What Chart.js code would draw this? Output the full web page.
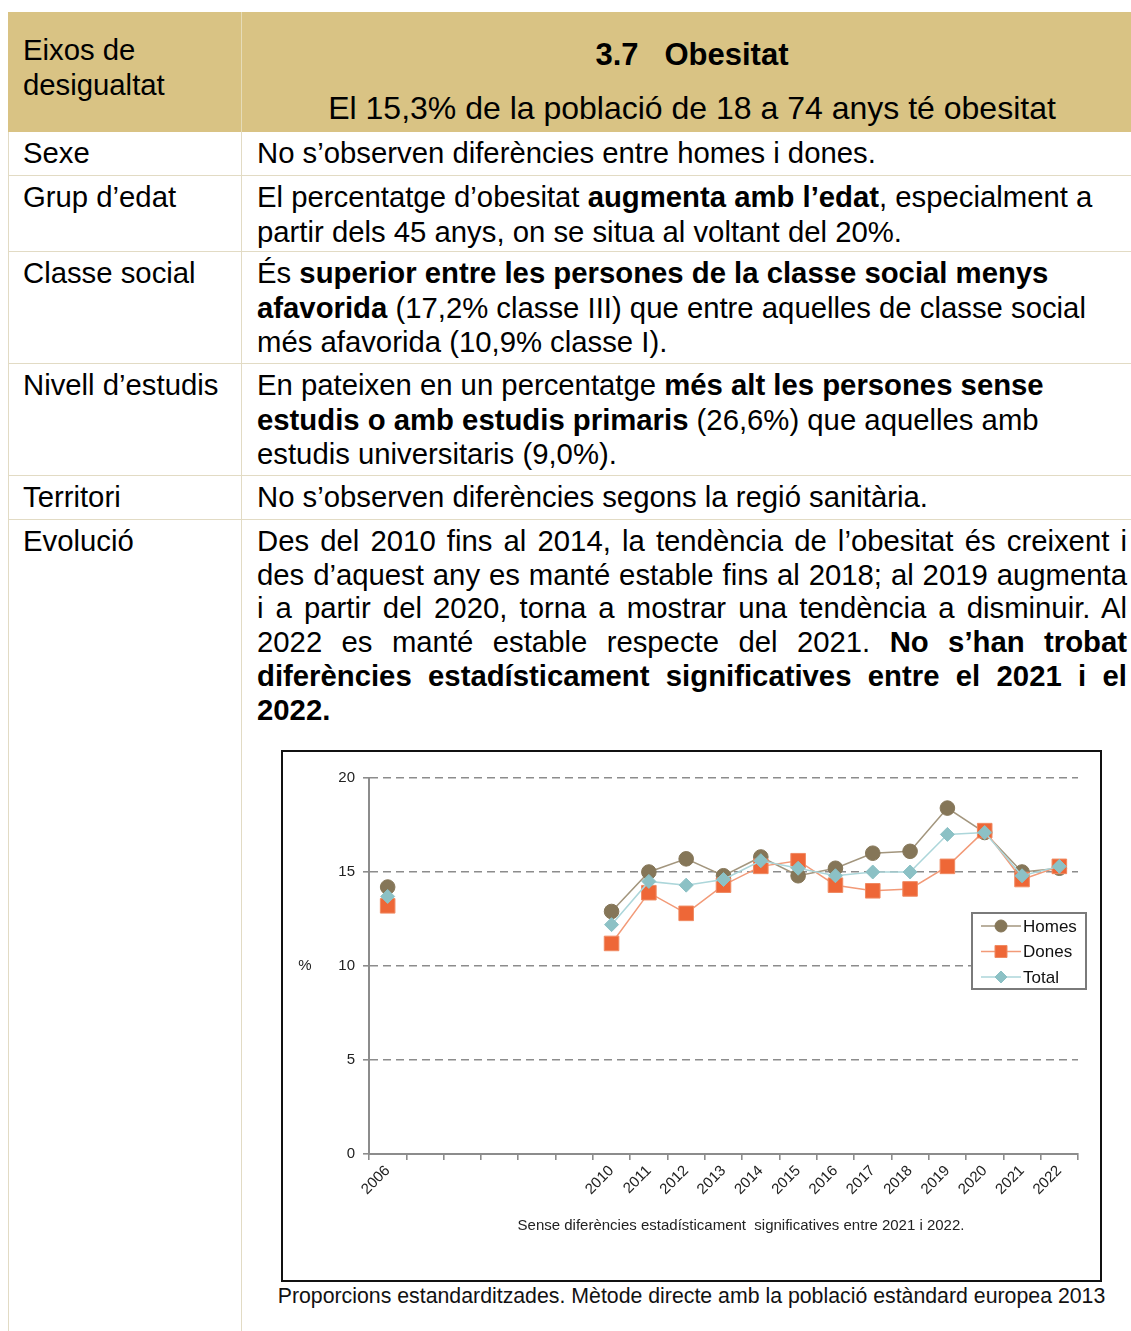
<!DOCTYPE html>
<html lang="ca">
<head>
<meta charset="utf-8">
<title>3.7 Obesitat</title>
<script src="https://cdn.jsdelivr.net/npm/chart.js@4.4.0/dist/chart.umd.min.js"></script>
<style>
  html, body { margin: 0; padding: 0; background: #fff; }
  body { width: 1131px; height: 1331px; overflow: hidden; position: relative;
         font-family: "Liberation Sans", Arial, sans-serif; color: #000; }
  .tbl { position: absolute; left: 8px; top: 12px; width: 1123px; }
  .row { display: flex; box-sizing: border-box; border-bottom: 1px solid #e2dbc4; }
  .c1 { width: 234px; flex: none; box-sizing: border-box; padding: 4px 0 0 14px;
        border-left: 1px solid #e2dbc4; border-right: 1px solid #e2dbc4; }
  .c2 { flex: 1; box-sizing: border-box; padding: 4px 4px 0 15px; }
  .row, .c1, .c2 { font-size: 29.3px; line-height: 34.5px; }
  .hd { background: #d9c384; height: 120px; border-bottom: none; }
  .hd .c1 { padding-top: 20px; line-height: 35px; border-left-color: #d9c384; border-right-color: #e6dcb8; }
  .hd .c2 { text-align: center; padding-top: 26px; }
  .hd .ttl { font-weight: bold; font-size: 31px; line-height: 34px; }
  .hd .sub { font-size: 32px; line-height: 34px; margin-top: 19px; }
  .evo p { margin: 0; text-align: justify; line-height: 33.7px; }
  .frame { margin: 24px 0 0 24px; width: 817px; height: 528px; border: 2px solid #111; position: relative; }
  .caption { margin: 3px 0 0 4px; width: 861px; text-align: center; white-space: nowrap;
             font-size: 21.3px; line-height: 22px; color: #111; }
</style>
</head>
<body>
<div class="tbl">
  <div class="row hd">
    <div class="c1">Eixos de<br>desigualtat</div>
    <div class="c2">
      <div class="ttl">3.7&nbsp;&nbsp; Obesitat</div>
      <div class="sub">El 15,3% de la població de 18 a 74 anys té obesitat</div>
    </div>
  </div>
  <div class="row" style="height:44px">
    <div class="c1">Sexe</div>
    <div class="c2">No s’observen diferències entre homes i dones.</div>
  </div>
  <div class="row" style="height:76px">
    <div class="c1">Grup d’edat</div>
    <div class="c2">El percentatge d’obesitat <b>augmenta amb l’edat</b>, especialment a partir dels 45 anys, on se situa al voltant del 20%.</div>
  </div>
  <div class="row" style="height:112px">
    <div class="c1">Classe social</div>
    <div class="c2">És <b>superior entre les persones de la classe social menys afavorida</b> (17,2% classe III) que entre aquelles de classe social més afavorida (10,9% classe I).</div>
  </div>
  <div class="row" style="height:112px">
    <div class="c1">Nivell d’estudis</div>
    <div class="c2">En pateixen en un percentatge <b>més alt les persones sense estudis o amb estudis primaris</b> (26,6%) que aquelles amb estudis universitaris (9,0%).</div>
  </div>
  <div class="row" style="height:44px">
    <div class="c1">Territori</div>
    <div class="c2">No s’observen diferències segons la regió sanitària.</div>
  </div>
  <div class="row evo" style="height:811px; border-bottom:none">
    <div class="c1">Evolució</div>
    <div class="c2">
      <p>Des del 2010 fins al 2014, la tendència de l’obesitat és creixent i des d’aquest any es manté estable fins al 2018; al 2019 augmenta i&nbsp;a partir del 2020, torna a mostrar una tendència a disminuir. Al 2022 es manté estable respecte del 2021. <b>No s’han trobat diferències estadísticament significatives entre el 2021 i el 2022.</b></p>
      <div class="frame"><canvas id="obesityChart"></canvas></div>
      <div class="caption">Proporcions estandarditzades. Mètode directe amb la població estàndard europea 2013</div>
    </div>
  </div>
</div>

<script>
// data (%)
const years = ['2006', '', '', '', '', '', '2010', '2011', '2012', '2013', '2014', '2015', '2016', '2017', '2018', '2019', '2020', '2021', '2022'];
const homes = [14.2, null, null, null, null, null, 12.9, 15.0, 15.7, 14.8, 15.8, 14.8, 15.2, 16.0, 16.1, 18.4, 17.1, 15.0, 15.2];
const dones = [13.2, null, null, null, null, null, 11.2, 13.9, 12.8, 14.3, 15.3, 15.6, 14.3, 14.0, 14.1, 15.3, 17.2, 14.6, 15.3];
const total = [13.7, null, null, null, null, null, 12.2, 14.5, 14.3, 14.6, 15.6, 15.2, 14.8, 15.0, 15.0, 17.0, 17.1, 14.8, 15.3];
const seriesNames = ['Homes', 'Dones', 'Total'];
const yMin = 0, yMax = 20, yStep = 5;
const yUnit = '%';
const footnote = 'Sense diferències estadísticament  significatives entre 2021 i 2022.';

Chart.defaults.font.family = '"Liberation Sans", Arial, sans-serif';

const AXIS_GREY = '#8c8c8c';

// boxed legend at right, line + marker per series; also the % label and footnote
const boxLegend = {
  id: 'boxLegend',
  afterDraw(chart) {
    const { ctx, chartArea } = chart;
    const left = chartArea.right - 106, top = chartArea.top + 135;
    ctx.save();
    ctx.fillStyle = '#fff';
    ctx.fillRect(left, top, 114, 76);
    ctx.strokeStyle = '#7a7a7a';
    ctx.lineWidth = 2;
    ctx.strokeRect(left, top, 114, 76);
    chart.data.datasets.forEach((ds, i) => {
      const y = top + 13 + i * 25.5;
      ctx.strokeStyle = ds.borderColor;
      ctx.lineWidth = 1.5;
      ctx.beginPath();
      ctx.moveTo(left + 9, y);
      ctx.lineTo(left + 49, y);
      ctx.stroke();
      ctx.fillStyle = ds.pointBackgroundColor;
      ctx.strokeStyle = ds.pointBorderColor;
      ctx.lineWidth = 1;
      const r = ds.pointStyle === 'rect' ? 8.5 : 6;
      Chart.helpers.drawPoint(ctx, { pointStyle: ds.pointStyle, radius: r, rotation: 0, borderWidth: 1 }, left + 29, y);
      ctx.fillStyle = '#111';
      ctx.font = '17px "Liberation Sans", Arial, sans-serif';
      ctx.textBaseline = 'middle';
      ctx.textAlign = 'left';
      ctx.fillText(ds.label, left + 51, y + 1);
    });
    const yScale = chart.scales.y;
    ctx.fillStyle = '#222';
    ctx.font = '15px "Liberation Sans", Arial, sans-serif';
    ctx.textAlign = 'center';
    ctx.textBaseline = 'middle';
    ctx.fillText(yUnit, chartArea.left - 64, yScale.getPixelForValue(10));
    ctx.fillText(footnote, chartArea.left + 372, chartArea.bottom + 72);
    ctx.restore();
  }
};

new Chart(document.getElementById('obesityChart'), {
  type: 'line',
  data: {
    labels: years,
    datasets: [{
      label: seriesNames[0],
      data: homes,
      borderColor: '#a3967e',
      borderWidth: 1.5,
      pointStyle: 'circle',
      pointRadius: 7.3,
      pointBackgroundColor: '#857658',
      pointBorderColor: '#857658',
      pointBorderWidth: 1,
      order: 3
    }, {
      label: seriesNames[1],
      data: dones,
      borderColor: '#f29a78',
      borderWidth: 1.5,
      pointStyle: 'rect',
      pointRadius: 10.3,
      pointBackgroundColor: '#ee6737',
      pointBorderColor: '#f08a62',
      pointBorderWidth: 1,
      order: 2
    }, {
      label: seriesNames[2],
      data: total,
      borderColor: '#acd6da',
      borderWidth: 1.5,
      pointStyle: 'rectRot',
      pointRadius: 7,
      pointBackgroundColor: '#8cc1c5',
      pointBorderColor: '#8cc1c5',
      pointBorderWidth: 1,
      order: 1
    }]
  },
  options: {
    responsive: true,
    maintainAspectRatio: false,
    animation: false,
    spanGaps: false,
    layout: { padding: { top: 26, right: 22, left: 0, bottom: 70 } },
    plugins: {
      legend: { display: false },
      tooltip: { enabled: false },
      title: { display: false }
    },
    scales: {
      x: {
        offset: true,
        afterFit: s => { s.height = 56; },
        ticks: { autoSkip: false, minRotation: 45, maxRotation: 45, color: '#222', font: { size: 15 }, padding: 2 },
        grid: { offset: true, drawOnChartArea: false, drawTicks: true, tickLength: 6, color: AXIS_GREY, lineWidth: 1.6 },
        border: { color: AXIS_GREY, width: 2 }
      },
      y: {
        min: yMin,
        max: yMax,
        afterFit: s => { s.width = 86; },
        ticks: { stepSize: yStep, color: '#222', font: { size: 15 }, padding: 8 },
        grid: {
          color: c => c.tick && c.tick.value === 0 ? 'rgba(0,0,0,0)' : AXIS_GREY,
          lineWidth: 1.6,
          tickLength: 6,
          tickColor: AXIS_GREY,
          tickBorderDash: []
        },
        border: { color: AXIS_GREY, width: 2, dash: [8, 5] }
      }
    }
  },
  plugins: [boxLegend]
});
</script>
</body>
</html>
